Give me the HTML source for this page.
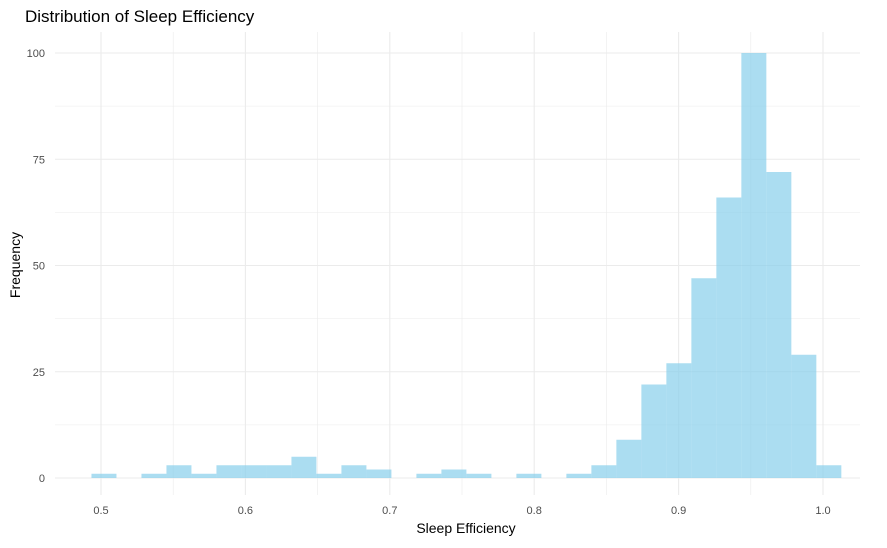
<!DOCTYPE html>
<html><head><meta charset="utf-8"><style>
body{margin:0;background:#fff;font-family:"Liberation Sans",sans-serif}
</style></head><body>
<svg id="chart" width="887" height="543" xmlns="http://www.w3.org/2000/svg">
<text x="25" y="22" font-size="17" fill="#000">Distribution of Sleep Efficiency</text>
<g id="grid"></g><g id="bars"></g><g id="labels"></g>
<text x="466" y="533" font-size="14" text-anchor="middle">Sleep Efficiency</text>
<text transform="translate(20,265) rotate(-90)" font-size="14" text-anchor="middle">Frequency</text>
</svg>
<script>
const binStart = 0.4934;
const binWidth = 0.01731;
const counts = [1,0,1,3,1,3,3,3,5,1,3,2,0,1,2,1,0,1,0,1,3,9,22,27,47,66,100,72,29,3];
const xTicks = [0.5,0.6,0.7,0.8,0.9,1.0];
const xTickLabels = ["0.5","0.6","0.7","0.8","0.9","1.0"];
const yTicks = [0,25,50,75,100];
const ns="http://www.w3.org/2000/svg";
const X=v=>101+(v-0.5)*1444, Y=c=>478-c*4.25;
const L=55,R=860,T=32,B=495;
const grid=document.getElementById('grid'),bars=document.getElementById('bars'),labels=document.getElementById('labels');
function line(x1,y1,x2,y2,w,name){const l=document.createElementNS(ns,'line');
l.setAttribute('x1',x1);l.setAttribute('y1',y1);l.setAttribute('x2',x2);l.setAttribute('y2',y2);
l.setAttribute('stroke','#ebebeb');l.setAttribute('stroke-width',w);


grid.appendChild(l);}
for(let i=0;i<yTicks.length;i++){line(L,Y(yTicks[i]),R,Y(yTicks[i]),1.1,'y-gridline');
 if(i<yTicks.length-1){const m=(yTicks[i]+yTicks[i+1])/2;line(L,Y(m),R,Y(m),0.6,'y-minor-gridline');}
 const t=document.createElementNS(ns,'text');t.setAttribute('x',45);t.setAttribute('y',Y(yTicks[i])+4);
 t.setAttribute('text-anchor','end');t.setAttribute('font-size','11');t.setAttribute('fill','#4d4d4d');t.textContent=yTicks[i];
 
 
 labels.appendChild(t);}
for(let i=0;i<xTicks.length;i++){line(X(xTicks[i]),T,X(xTicks[i]),B,1.1,'x-gridline');
 if(i<xTicks.length-1){const m=(xTicks[i]+xTicks[i+1])/2;line(X(m),T,X(m),B,0.6,'x-minor-gridline');}
 const t=document.createElementNS(ns,'text');t.setAttribute('x',X(xTicks[i]));t.setAttribute('y',514);
 t.setAttribute('text-anchor','middle');t.setAttribute('font-size','11');t.setAttribute('fill','#4d4d4d');t.textContent=xTickLabels[i];
 
 
 labels.appendChild(t);}
counts.forEach((c,i)=>{if(!c)return;const x0=X(binStart+i*binWidth),x1=X(binStart+(i+1)*binWidth);
 const r=document.createElementNS(ns,'rect');r.setAttribute('x',x0);r.setAttribute('width',x1-x0);
 r.setAttribute('y',Y(c));r.setAttribute('height',Y(0)-Y(c));r.setAttribute('fill','rgb(135,206,235)');r.setAttribute('fill-opacity','0.7');
 
 
 bars.appendChild(r);});
</script>
</body></html>
